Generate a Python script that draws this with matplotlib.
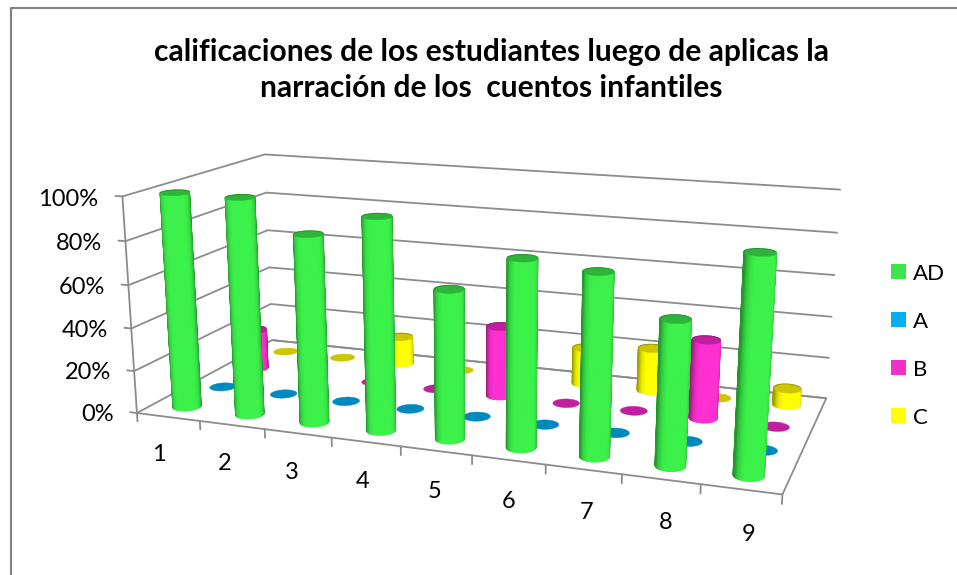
import numpy as np
import matplotlib
matplotlib.use("Agg")
import matplotlib.pyplot as plt
from matplotlib.patches import Patch
from matplotlib.lines import Line2D
from mpl_toolkits.mplot3d.art3d import Poly3DCollection

# ---- data -------------------------------------------------------------
title = "calificaciones de los estudiantes luego de aplicas la\nnarración de los  cuentos infantiles"
categories = ["1", "2", "3", "4", "5", "6", "7", "8", "9"]
series_names = ["AD", "A", "B", "C"]
ad_values = [100, 100, 86, 96, 67, 83, 80, 63, 93]
a_values = [0, 0, 0, 0, 0, 0, 0, 0, 0]
b_values = [20, 0, 0, 0, 34, 0, 0, 37, 0]
c_values = [0, 0, 14, 0, 0, 18, 21, 0, 8]
value_ticks = [0, 20, 40, 60, 80, 100]

legend_colors = ["#3BE64B", "#00B0F0", "#F030C8", "#FFFF00"]
side_colors = ["#3CF24A", "#00AEEF", "#FF30D2", "#FFFF00"]
top_colors = ["#2DB53A", "#0089BF", "#C0209F", "#CDC500"]
GRID = "#8C8C8C"

W, H = 957, 575
plt.rcParams["font.family"] = ["Lato", "DejaVu Sans"]
fig = plt.figure(figsize=(W / 100, H / 100), dpi=100, facecolor="white")
# a square 3D axes wider than the figure's height, so nothing gets clipped
ax = fig.add_axes([0, (H - W) / 2 / H, 1, W / H], projection="3d", computed_zorder=False)
ax.set_axis_off()
ax.set_xticks([])
ax.set_yticks([])
ax.set_zticks([])

# ---- camera calibrated on the reference box (box coords -> pixels) ------
calib = [
    ((0, 0, 100), (123, 195)), ((0, 0, 80), (127, 240)), ((0, 0, 60), (125, 284)),
    ((0, 0, 40), (130, 327)), ((0, 0, 20), (135, 370)), ((0, 0, 0), (138, 413)),
    ((0, 4, 100), (265, 155)), ((0, 4, 80), (267, 193)), ((0, 4, 60), (267, 231)),
    ((0, 4, 40), (270, 268)), ((0, 4, 20), (270, 305)), ((0, 4, 0), (272, 342)),
    ((9, 4, 100), (840, 187)), ((9, 4, 80), (837, 231)), ((9, 4, 60), (834, 274)),
    ((9, 4, 40), (832, 316)), ((9, 4, 20), (829, 358)), ((9, 4, 0), (826, 398)),
    ((9, 0, 0), (783, 494)), ((9, 0, 100), (797, 254)),
]
rows = []
for (X, Y, Z), (u, v) in calib:
    Z2 = Z / 10.0
    rows.append([X, Y, Z2, 1, 0, 0, 0, 0, -u * X, -u * Y, -u * Z2, -u])
    rows.append([0, 0, 0, 0, X, Y, Z2, 1, -v * X, -v * Y, -v * Z2, -v])
# normalise pixels for conditioning
R = np.array(rows, float)
R[:, :4] /= 500.0
R[:, 4:8] /= 500.0
P = np.linalg.svd(R)[2][-1].reshape(3, 4)
P[:2] /= 500.0
P[:, 2] /= 10.0
centre = np.array([4.5, 2, 50, 1.0])
P = P / (P[2] @ centre)


def fitted_proj():
    inv = ax.transData.inverted()
    o = inv.transform((0, H))
    ux = inv.transform((1, H)) - o
    vy = inv.transform((0, H - 1)) - o
    M = np.zeros((4, 4))
    M[0] = ux[0] * P[0] + o[0] * P[2]
    M[1] = vy[1] * P[1] + o[1] * P[2]
    M[2] = [0, 0, 0, -1]
    M[3] = P[2]
    return M


ax.get_proj = fitted_proj

# ---- walls, floor, ticks ------------------------------------------------
nx, ny = len(categories), len(series_names)
lw = 1.3


def seg(x, y, z, zo=1):
    ax.plot(x, y, z, color=GRID, lw=lw, zorder=zo, solid_capstyle="round")


for v in value_ticks:
    seg([0, 0, nx], [0, ny, ny], [v, v, v])
    seg([-0.11, 0], [0, 0], [v, v])
    ax.text(-0.38, 0, v - 2, f"{v}%", ha="right", va="center", fontsize=17, color="black")
seg([0, 0], [0, 0], [0, 100])
seg([0, nx, nx, 0], [0, 0, ny, ny], [0, 0, 0, 0])
for i in range(nx + 1):
    seg([i, i], [0, 0], [0, -4])
for i, c in enumerate(categories):
    ax.text(i + 0.72, -0.62, -10, c, ha="center", va="center", fontsize=17, color="black")


# ---- cylinders ----------------------------------------------------------
def shade(col, f):
    rgb = np.array(matplotlib.colors.to_rgb(col))
    return tuple(rgb * f)


def cylinder(cx, cy, h, side, top, zo, rx=0.19, ry=0.2, n=48):
    ang = np.linspace(0, 2 * np.pi, n + 1)
    xs = cx + rx * np.cos(ang)
    ys = cy + ry * np.sin(ang)
    polys, cols = [], []
    face = -np.pi / 2 + 0.55
    if h > 0.01:
        for k in range(n):
            a = 0.5 * (ang[k] + ang[k + 1])
            d = np.abs(np.angle(np.exp(1j * (a - face))))
            f = 1.0 if d < 0.5 else max(0.62, 1.0 - 0.38 * ((d - 0.5) / 0.95) ** 2)
            polys.append([(xs[k], ys[k], 0), (xs[k + 1], ys[k + 1], 0),
                          (xs[k + 1], ys[k + 1], h), (xs[k], ys[k], h)])
            cols.append(shade(side, f))
    if polys:
        body = Poly3DCollection(polys, facecolors=cols, edgecolors=cols, linewidths=1.0, zorder=zo)
        ax.add_collection3d(body, autolim=False)
    cap = Poly3DCollection([list(zip(xs[:-1], ys[:-1], np.full(n, h)))], facecolors=[top],
                           edgecolors=[top], linewidths=0.3, zorder=zo + 0.5)
    ax.add_collection3d(cap, autolim=False)


all_values = [ad_values, a_values, b_values, c_values]
zo = 10
for s in range(ny - 1, -1, -1):
    for i in range(nx):
        cylinder(i + 0.5, s + 0.5, all_values[s][i], side_colors[s], top_colors[s], zo)
        zo += 1

# ---- title, legend, frame ----------------------------------------------
fig.text(491 / W, 1 - 70 / H, title, ha="center", va="center", fontsize=21.6, fontweight="bold",
         color="black", linespacing=1.39)
handles = [Patch(facecolor=c, edgecolor="none", label=n) for c, n in zip(legend_colors, series_names)]
fig.legend(handles=handles, loc="center left", bbox_to_anchor=(884 / W, 1 - 345.5 / H), frameon=False,
           fontsize=16, handlelength=0.68, handleheight=0.68, handletextpad=0.32, labelspacing=1.26,
           borderpad=0.3, borderaxespad=0)
fig.add_artist(Line2D([11 / W, 11 / W, 1], [0, 1 - 8 / H, 1 - 8 / H], color="#808080", lw=1.5,
                      transform=fig.transFigure))

fig.savefig("out.png", dpi=100, facecolor="white")
